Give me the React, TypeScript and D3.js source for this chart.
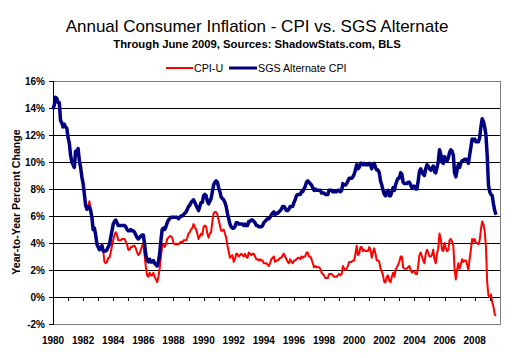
import React, { useEffect, useRef } from "react";
import * as d3 from "d3";

// monthly year-over-year change, Jan 1980 .. Jun 2009
const startYear = 1980;

const cpiU = [
  13.9, 14.2, 14.8, 14.7, 14.4, 14.4, 13.1, 12.9, 12.6, 12.8, 12.6, 12.5, // 1980
  11.8, 11.4, 10.5, 10.0, 9.8, 9.6, 10.8, 10.8, 11.0, 10.1, 9.6, 8.9, // 1981
  8.4, 7.6, 6.8, 6.5, 6.7, 7.1, 6.4, 5.9, 5.0, 5.1, 4.6, 3.8, // 1982
  3.7, 3.5, 3.6, 3.9, 3.5, 2.6, 2.5, 2.6, 2.9, 2.9, 3.3, 3.8, // 1983
  4.2, 4.6, 4.8, 4.6, 4.2, 4.2, 4.2, 4.3, 4.3, 4.3, 4.1, 3.9, // 1984
  3.5, 3.5, 3.7, 3.7, 3.8, 3.8, 3.6, 3.3, 3.1, 3.2, 3.5, 3.8, // 1985
  3.9, 3.1, 2.2, 1.6, 1.5, 1.8, 1.6, 1.6, 1.8, 1.5, 1.3, 1.1, // 1986
  1.5, 2.1, 3.0, 3.8, 3.9, 3.7, 3.9, 4.3, 4.4, 4.5, 4.5, 4.4, // 1987
  4.0, 3.9, 3.9, 3.9, 3.9, 4.0, 4.1, 4.0, 4.2, 4.2, 4.2, 4.4, // 1988
  4.7, 4.8, 5.0, 5.1, 5.4, 5.2, 5.0, 4.7, 4.3, 4.5, 4.7, 4.6, // 1989
  5.2, 5.3, 5.2, 4.7, 4.4, 4.7, 4.8, 5.6, 6.2, 6.3, 6.3, 6.1, // 1990
  5.7, 5.3, 4.9, 4.9, 5.0, 4.7, 4.4, 3.8, 3.4, 2.9, 3.0, 3.1, // 1991
  2.6, 2.8, 3.2, 3.2, 3.0, 3.1, 3.2, 3.1, 3.0, 3.2, 3.0, 2.9, // 1992
  3.3, 3.2, 3.1, 3.2, 3.2, 3.0, 2.8, 2.8, 2.7, 2.8, 2.7, 2.7, // 1993
  2.5, 2.5, 2.5, 2.4, 2.3, 2.5, 2.8, 2.9, 3.0, 2.6, 2.7, 2.7, // 1994
  2.8, 2.9, 2.9, 3.1, 3.2, 3.0, 2.8, 2.6, 2.5, 2.8, 2.6, 2.5, // 1995
  2.7, 2.7, 2.8, 2.9, 2.9, 2.8, 3.0, 2.9, 3.0, 3.0, 3.3, 3.3, // 1996
  3.0, 3.0, 2.8, 2.5, 2.2, 2.3, 2.2, 2.2, 2.2, 2.1, 1.8, 1.7, // 1997
  1.6, 1.4, 1.4, 1.4, 1.7, 1.7, 1.7, 1.6, 1.5, 1.5, 1.5, 1.6, // 1998
  1.7, 1.6, 1.7, 2.3, 2.1, 2.0, 2.1, 2.3, 2.6, 2.6, 2.6, 2.7, // 1999
  2.7, 3.2, 3.8, 3.1, 3.2, 3.7, 3.7, 3.4, 3.5, 3.4, 3.4, 3.4, // 2000
  3.7, 3.5, 2.9, 3.3, 3.6, 3.2, 2.7, 2.7, 2.6, 2.1, 1.9, 1.6, // 2001
  1.1, 1.1, 1.5, 1.6, 1.2, 1.1, 1.5, 1.8, 1.5, 2.0, 2.2, 2.4, // 2002
  2.6, 3.0, 3.0, 2.2, 2.1, 2.1, 2.1, 2.2, 2.3, 2.0, 1.8, 1.9, // 2003
  1.9, 1.7, 1.7, 2.3, 3.1, 3.3, 3.0, 2.7, 2.5, 3.2, 3.5, 3.3, // 2004
  3.0, 3.0, 3.1, 3.5, 2.8, 2.5, 3.2, 3.6, 4.7, 4.3, 3.5, 3.4, // 2005
  4.0, 3.6, 3.4, 3.5, 4.2, 4.3, 4.1, 3.8, 2.1, 1.3, 2.0, 2.5, // 2006
  2.1, 2.4, 2.8, 2.6, 2.7, 2.7, 2.4, 2.0, 2.8, 3.5, 4.3, 4.1, // 2007
  4.3, 4.0, 4.0, 3.9, 4.2, 5.0, 5.6, 5.4, 4.9, 3.7, 1.1, 0.1, // 2008
  0.0, 0.2, -0.4, -0.7, -1.3, -1.4, // 2009
];

const sgsAlt = [
  13.9, 14.2, 14.8, 14.7, 14.4, 14.4, 13.1, 12.9, 12.6, 12.8, 12.6, 12.5, // 1980
  11.8, 11.4, 10.5, 10.0, 9.8, 9.6, 10.8, 10.8, 11.0, 10.1, 9.6, 8.9, // 1981
  8.4, 7.6, 6.8, 6.5, 6.7, 6.7, 6.4, 5.9, 5.0, 5.1, 4.6, 3.9, // 1982
  3.7, 3.5, 3.6, 3.8, 3.4, 3.4, 3.4, 3.5, 3.7, 3.9, 4.4, 4.9, // 1983
  5.4, 5.6, 5.7, 5.5, 5.3, 5.3, 5.3, 5.3, 5.3, 5.3, 5.2, 5.0, // 1984
  4.9, 4.9, 5.0, 4.9, 4.9, 4.8, 4.6, 4.4, 4.3, 4.4, 4.5, 4.6, // 1985
  4.6, 3.9, 3.1, 2.7, 2.6, 2.8, 2.6, 2.6, 2.7, 2.5, 2.4, 2.3, // 1986
  2.6, 3.2, 4.2, 5.0, 5.1, 5.0, 5.2, 5.5, 5.7, 5.8, 5.9, 5.9, // 1987
  5.9, 5.9, 5.9, 5.9, 5.8, 5.9, 6.0, 6.0, 6.1, 6.2, 6.3, 6.5, // 1988
  6.7, 6.8, 7.0, 7.1, 7.2, 7.0, 6.8, 6.6, 6.4, 6.7, 7.0, 7.0, // 1989
  7.5, 7.6, 7.5, 7.1, 6.9, 7.1, 7.3, 7.8, 8.3, 8.5, 8.6, 8.5, // 1990
  8.1, 7.8, 7.4, 7.3, 7.2, 7.0, 6.7, 6.2, 5.8, 5.4, 5.2, 5.1, // 1991
  5.1, 5.2, 5.5, 5.5, 5.4, 5.4, 5.4, 5.4, 5.3, 5.4, 5.3, 5.3, // 1992
  5.6, 5.6, 5.7, 5.7, 5.6, 5.5, 5.3, 5.3, 5.2, 5.2, 5.2, 5.3, // 1993
  5.5, 5.6, 5.7, 5.8, 5.8, 5.9, 6.1, 6.2, 6.3, 6.1, 6.2, 6.2, // 1994
  6.3, 6.4, 6.5, 6.7, 6.7, 6.6, 6.4, 6.4, 6.5, 6.7, 6.7, 6.7, // 1995
  7.0, 7.2, 7.5, 7.6, 7.6, 7.6, 7.8, 7.8, 8.0, 8.2, 8.5, 8.6, // 1996
  8.5, 8.4, 8.3, 8.1, 7.9, 8.0, 7.9, 7.9, 7.9, 7.9, 7.7, 7.7, // 1997
  7.7, 7.6, 7.6, 7.6, 7.9, 7.9, 7.9, 7.8, 7.8, 7.8, 7.8, 7.9, // 1998
  7.9, 7.8, 7.9, 8.4, 8.3, 8.3, 8.4, 8.6, 8.8, 8.8, 8.8, 8.9, // 1999
  9.1, 9.4, 9.8, 9.5, 9.6, 9.9, 9.9, 9.8, 9.9, 9.8, 9.8, 9.8, // 2000
  9.9, 9.8, 9.5, 9.8, 9.9, 9.6, 9.4, 9.4, 9.2, 8.6, 8.3, 7.9, // 2001
  7.6, 7.5, 7.8, 7.9, 7.5, 7.5, 7.8, 8.1, 7.9, 8.3, 8.6, 8.8, // 2002
  8.8, 9.2, 9.1, 8.5, 8.4, 8.4, 8.4, 8.5, 8.5, 8.3, 8.1, 8.2, // 2003
  8.2, 8.0, 8.0, 8.6, 9.3, 9.5, 9.3, 9.1, 9.0, 9.5, 9.8, 9.7, // 2004
  9.5, 9.4, 9.5, 9.7, 9.3, 9.2, 9.6, 10.0, 10.9, 10.6, 10.0, 9.9, // 2005
  10.4, 10.2, 10.1, 10.3, 10.7, 10.9, 10.8, 10.5, 9.2, 8.9, 9.4, 9.8, // 2006
  9.6, 9.9, 10.1, 10.1, 10.2, 10.2, 10.1, 9.9, 10.5, 11.1, 11.7, 11.6, // 2007
  11.7, 11.5, 11.5, 11.5, 11.8, 12.6, 13.2, 13.0, 12.6, 12.0, 10.5, 8.3, // 2008
  7.8, 7.6, 7.5, 6.9, 6.4, 6.1, // 2009
];

const seriesNames = ["CPI-U", "SGS Alternate CPI"];
const seriesColors = ["#ff0000", "#000080"];
const yTicks = [-2, 0, 2, 4, 6, 8, 10, 12, 14, 16];
const xLabels = [1980, 1982, 1984, 1986, 1988, 1990, 1992, 1994, 1996, 1998, 2000, 2002, 2004, 2006, 2008];

const font = "Arial, 'Liberation Sans', sans-serif";

export default function App() {
  const svgRef = useRef(null);

  useEffect(() => {
    const svg = d3.select(svgRef.current);
    svg.selectAll("*").remove();

    const width = 514,
      height = 358;
    const margin = { top: 81, right: 13, bottom: 34, left: 53 };

    // x is month index from Jan 1980; axis runs a few months past the last point
    const x = d3.scaleLinear().domain([0, 357]).range([margin.left, width - margin.right]);
    const y = d3.scaleLinear().domain([-2, 16]).range([height - margin.bottom, margin.top]);

    svg.append("rect").attr("width", width).attr("height", height).attr("fill", "#fff");

    // titles
    svg
      .append("text")
      .attr("x", width / 2)
      .attr("y", 32)
      .attr("text-anchor", "middle")
      .style("font-family", font)
      .style("font-size", "17px")
      .text("Annual Consumer Inflation - CPI vs. SGS Alternate");

    svg
      .append("text")
      .attr("x", width / 2)
      .attr("y", 48)
      .attr("text-anchor", "middle")
      .style("font-family", font)
      .style("font-size", "11.3px")
      .style("font-weight", "bold")
      .text("Through June 2009, Sources: ShadowStats.com, BLS");

    // legend
    const legendItems = [
      { x1: 166, x2: 193, w: 2 },
      { x1: 229, x2: 257, w: 3 },
    ];
    legendItems.forEach((d, i) => {
      svg
        .append("line")
        .attr("x1", d.x1)
        .attr("x2", d.x2)
        .attr("y1", 68)
        .attr("y2", 68)
        .attr("stroke", seriesColors[i])
        .attr("stroke-width", d.w);
      svg
        .append("text")
        .attr("x", d.x2 + 1)
        .attr("y", 71.5)
        .style("font-family", font)
        .style("font-size", "10.7px")
        .text(seriesNames[i]);
    });

    // grid lines
    const [x0, x1] = x.range();
    svg
      .append("g")
      .selectAll("line")
      .data(yTicks.filter((v) => v > -2 && v < 16))
      .join("line")
      .attr("x1", x0)
      .attr("x2", x1)
      .attr("y1", (d) => Math.round(y(d)) + 0.5)
      .attr("y2", (d) => Math.round(y(d)) + 0.5)
      .attr("stroke", "#000")
      .attr("stroke-width", 1);

    // plot frame
    svg
      .append("rect")
      .attr("x", x0 + 0.5)
      .attr("y", y(16) + 0.5)
      .attr("width", x1 - x0 - 1)
      .attr("height", y(-2) - y(16))
      .attr("fill", "none")
      .attr("stroke", "#808080");

    // value axis
    svg
      .append("line")
      .attr("x1", x0 + 0.5)
      .attr("x2", x0 + 0.5)
      .attr("y1", y(16))
      .attr("y2", y(-2) + 1)
      .attr("stroke", "#000");

    svg
      .append("g")
      .selectAll("line")
      .data(yTicks)
      .join("line")
      .attr("x1", x0 - 4)
      .attr("x2", x0)
      .attr("y1", (d) => Math.round(y(d)) + 0.5)
      .attr("y2", (d) => Math.round(y(d)) + 0.5)
      .attr("stroke", "#000");

    svg
      .append("g")
      .selectAll("text")
      .data(yTicks)
      .join("text")
      .attr("x", x0 - 8)
      .attr("y", (d) => y(d))
      .attr("dy", "0.36em")
      .attr("text-anchor", "end")
      .style("font-family", font)
      .style("font-size", "10px")
      .style("font-weight", "bold")
      .text((d) => d + "%");

    svg
      .append("text")
      .attr("transform", `translate(20, 202) rotate(-90)`)
      .attr("text-anchor", "middle")
      .style("font-family", font)
      .style("font-size", "10.6px")
      .style("font-weight", "bold")
      .text("Year-to-Year Percent Change");

    // category axis sits on 0%
    const years = d3.range(1, 30);
    svg
      .append("g")
      .selectAll("line")
      .data(years)
      .join("line")
      .attr("x1", (d) => Math.round(x(d * 12)) + 0.5)
      .attr("x2", (d) => Math.round(x(d * 12)) + 0.5)
      .attr("y1", y(0))
      .attr("y2", y(0) + 4)
      .attr("stroke", "#000");

    svg
      .append("g")
      .selectAll("text")
      .data(xLabels)
      .join("text")
      .attr("x", (d) => x((d - startYear) * 12))
      .attr("y", y(-2) + 19.5)
      .attr("text-anchor", "middle")
      .style("font-family", font)
      .style("font-size", "10px")
      .style("font-weight", "bold")
      .text((d) => d);

    // series
    const valueLine = d3
      .line()
      .x((d, i) => x(i))
      .y((d) => y(d));

    [cpiU, sgsAlt].forEach((series, i) => {
      svg
        .append("path")
        .datum(series)
        .attr("fill", "none")
        .attr("stroke", seriesColors[i])
        .attr("stroke-width", i === 0 ? 2 : 3.5)
        .attr("stroke-linejoin", "round")
        .attr("d", valueLine);
    });
  }, []);

  return (
    <div style={{ position: "absolute", left: 0, top: 0 }}>
      <svg ref={svgRef} width={514} height={358}></svg>
    </div>
  );
}
